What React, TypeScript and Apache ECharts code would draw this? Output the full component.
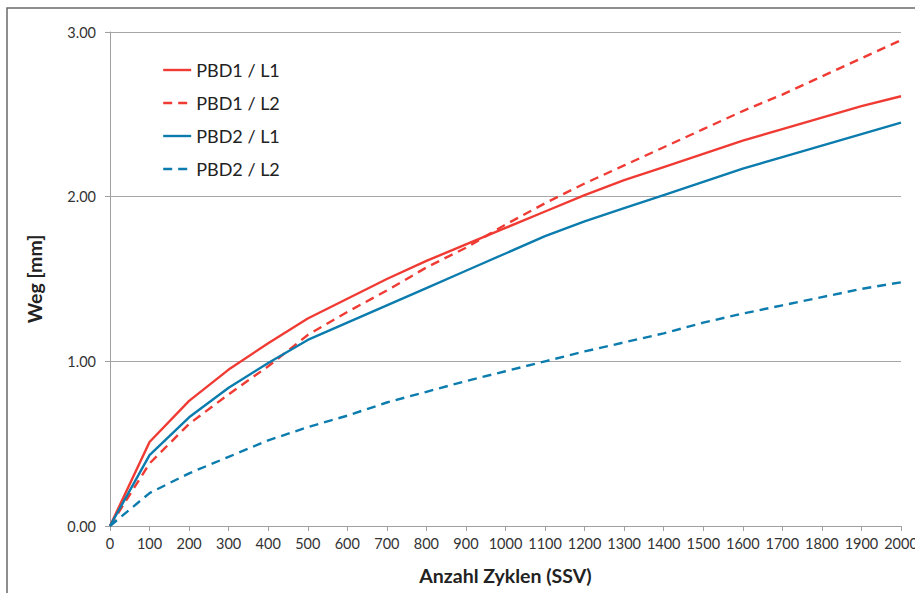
import React, { useEffect, useRef } from "react";
import * as echarts from "echarts";

const cycles = [0, 100, 200, 300, 400, 500, 600, 700, 800, 900, 1000, 1100, 1200, 1300, 1400, 1500, 1600, 1700, 1800, 1900, 2000];
const pbd1L1 = [0, 0.51, 0.76, 0.95, 1.11, 1.26, 1.38, 1.50, 1.61, 1.71, 1.81, 1.91, 2.01, 2.10, 2.18, 2.26, 2.34, 2.41, 2.48, 2.55, 2.61];
const pbd1L2 = [0, 0.38, 0.62, 0.80, 0.97, 1.16, 1.30, 1.43, 1.57, 1.69, 1.83, 1.96, 2.08, 2.19, 2.30, 2.41, 2.52, 2.62, 2.73, 2.84, 2.95];
const pbd2L1 = [0, 0.43, 0.66, 0.84, 0.99, 1.13, 1.235, 1.34, 1.445, 1.55, 1.655, 1.76, 1.85, 1.93, 2.01, 2.09, 2.17, 2.24, 2.31, 2.38, 2.45];
const pbd2L2 = [0, 0.20, 0.32, 0.42, 0.52, 0.60, 0.67, 0.75, 0.815, 0.88, 0.94, 1.00, 1.06, 1.115, 1.17, 1.235, 1.29, 1.34, 1.39, 1.44, 1.48];
const seriesNames = ["PBD1 / L1", "PBD1 / L2", "PBD2 / L1", "PBD2 / L2"];

const RED = "#ef3b33";
const BLUE = "#0b7cad";
const FONT = "Lato, 'Open Sans', sans-serif";

export default function App() {
  const ref = useRef<HTMLDivElement>(null);
  useEffect(() => {
    if (!ref.current) return;
    const chart = echarts.init(ref.current, undefined, { renderer: "svg" });
    const mk = (name: string, vals: number[], color: string, dashed: boolean) => ({
      name,
      type: "line",
      data: cycles.map((c, i) => [c, vals[i]]),
      symbol: "none",
      smooth: false,
      lineStyle: { color, width: 2.4, type: dashed ? [9, 6] : "solid" },
      itemStyle: { color },
    });
    chart.setOption({
      animation: false,
      textStyle: { fontFamily: FONT },
      graphic: [
        {
          type: "rect",
          shape: { x: 7, y: 8, width: 1000, height: 1000 },
          style: { fill: "none", stroke: "#6a6a6a", lineWidth: 1.5 },
          silent: true,
        },
      ],
      grid: { left: 110, right: 14, top: 32, bottom: 67, outerBoundsMode: "none", containLabel: false },
      legend: {
        orient: "vertical",
        left: 157,
        top: 56,
        itemWidth: 28,
        itemHeight: 14,
        itemGap: 15,
        data: seriesNames,
        itemStyle: { opacity: 0 },
        lineStyle: { width: 2.4 },
        textStyle: { fontSize: 18, color: "#222", fontFamily: FONT },
      },
      xAxis: {
        type: "value",
        min: 0,
        max: 2000,
        interval: 100,
        name: "Anzahl Zyklen (SSV)",
        nameLocation: "middle",
        nameGap: 39,
        nameTextStyle: { fontSize: 19.5, fontWeight: "bold", color: "#222", fontFamily: FONT },
        axisLine: { show: true, lineStyle: { color: "#a0a0a0", width: 1 } },
        axisTick: { show: true, length: 5, lineStyle: { color: "#a0a0a0" } },
        axisLabel: {
          fontSize: 14.5,
          color: "#333",
          margin: 10,
          fontFamily: FONT,
          formatter: (v: number) => String(v),
        },
        splitLine: { show: false },
      },
      yAxis: {
        type: "value",
        min: 0,
        max: 3,
        interval: 1,
        name: "Weg [mm]",
        nameLocation: "middle",
        nameGap: 66,
        nameTextStyle: { fontSize: 19.5, fontWeight: "bold", color: "#222", fontFamily: FONT },
        axisLine: { show: true, lineStyle: { color: "#a0a0a0", width: 1 } },
        axisTick: { show: true, length: 5, lineStyle: { color: "#a0a0a0" } },
        axisLabel: {
          fontSize: 14.5,
          color: "#333",
          margin: 14,
          fontFamily: FONT,
          formatter: (v: number) => v.toFixed(2),
        },
        splitLine: { show: true, lineStyle: { color: "#a6a6a6", width: 1 } },
      },
      series: [
        mk(seriesNames[0], pbd1L1, RED, false),
        mk(seriesNames[1], pbd1L2, RED, true),
        mk(seriesNames[2], pbd2L1, BLUE, false),
        mk(seriesNames[3], pbd2L2, BLUE, true),
      ],
    });
    return () => chart.dispose();
  }, []);
  return (
    <div
      ref={ref}
      style={{ position: "absolute", left: 0, top: 0, width: 915, height: 593, background: "#fff" }}
    />
  );
}
